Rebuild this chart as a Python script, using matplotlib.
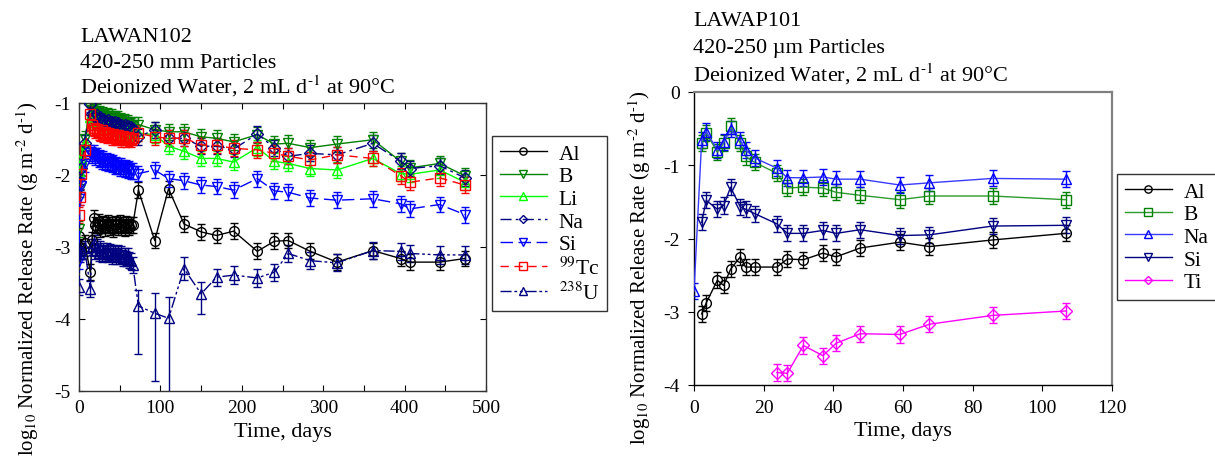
import matplotlib
matplotlib.use('Agg')
import matplotlib.pyplot as plt
import numpy as np

plt.rcParams['font.family'] = ['Liberation Serif', 'DejaVu Serif']
plt.rcParams['mathtext.fontset'] = 'stix'
plt.rcParams['axes.unicode_minus'] = False

# ---------------- Left panel data (LAWAN102) ----------------
t_early = [0, 1, 3, 7, 14, 16, 18, 20, 22, 24, 26, 28, 30, 32, 34, 36, 38, 40, 42, 44,
           46, 48, 50, 52, 54, 56, 58, 60, 62, 64, 66]
t_late = [73, 93, 110, 129, 150, 169, 190, 219, 240, 257, 284, 317, 361, 395, 407, 443, 474]

al_early = [-2.85, -3.0, -3.05, -2.95, -3.35, -2.9, -2.6, -2.7, -2.72, -2.65, -2.75, -2.7, -2.68, -2.74,
            -2.7, -2.66, -2.72, -2.7, -2.75, -2.68, -2.7, -2.73, -2.67, -2.72, -2.7, -2.74, -2.68, -2.7,
            -2.72, -2.69, -2.7]
al_late = [-2.21, -2.91, -2.19, -2.68, -2.79, -2.84, -2.78, -3.06, -2.92, -2.91, -3.06, -3.21, -3.05,
           -3.16, -3.21, -3.21, -3.16]

b_early = [-2.75, -2.2, -1.9, -1.5, -1.05, -1.1, -1.12, -1.15, -1.13, -1.18, -1.15, -1.2, -1.17, -1.2,
           -1.22, -1.18, -1.22, -1.2, -1.25, -1.22, -1.24, -1.22, -1.27, -1.25, -1.28, -1.26, -1.3,
           -1.28, -1.3, -1.32, -1.3]
b_late = [-1.30, -1.37, -1.40, -1.40, -1.47, -1.49, -1.54, -1.44, -1.57, -1.56, -1.62, -1.57, -1.51,
          -1.81, -1.90, -1.84, -2.01]

li_early = [-1.95, -1.85, -1.75, -1.55, -1.2, -1.2, -1.22, -1.25, -1.23, -1.27, -1.25, -1.28, -1.3,
            -1.27, -1.3, -1.32, -1.3, -1.33, -1.3, -1.35, -1.33, -1.35, -1.37, -1.34, -1.37, -1.38,
            -1.36, -1.4, -1.38, -1.4, -1.42]
li_late = [-1.42, -1.44, -1.60, -1.67, -1.77, -1.77, -1.82, -1.62, -1.81, -1.84, -1.91, -1.93, -1.77,
           -1.98, -1.99, -1.93, -2.10]

na_early = [-3.05, -2.1, -1.9, -1.55, -1.02, -1.15, -1.18, -1.2, -1.17, -1.22, -1.2, -1.24, -1.22,
            -1.25, -1.27, -1.24, -1.27, -1.26, -1.3, -1.27, -1.3, -1.28, -1.32, -1.3, -1.33, -1.31,
            -1.34, -1.32, -1.35, -1.34, -1.36]
na_late = [-1.47, -1.37, -1.49, -1.49, -1.60, -1.60, -1.64, -1.43, -1.62, -1.74, -1.70, -1.72, -1.56,
           -1.81, -1.91, -1.87, -2.04]

si_early = [-3.2, -2.3, -2.15, -1.85, -1.7, -1.72, -1.7, -1.75, -1.73, -1.78, -1.76, -1.8, -1.78,
            -1.82, -1.8, -1.84, -1.82, -1.85, -1.83, -1.87, -1.86, -1.88, -1.9, -1.87, -1.9, -1.92,
            -1.9, -1.93, -1.92, -1.95, -1.94]
si_late = [-1.98, -1.93, -2.05, -2.08, -2.14, -2.16, -2.21, -2.05, -2.22, -2.24, -2.32, -2.35, -2.33,
           -2.40, -2.47, -2.41, -2.55]

tc_early = [-2.56, -2.3, -1.98, -1.65, -1.15, -1.3, -1.35, -1.38, -1.36, -1.4, -1.42, -1.38, -1.43,
            -1.4, -1.45, -1.42, -1.44, -1.47, -1.43, -1.46, -1.48, -1.45, -1.47, -1.5, -1.46, -1.48,
            -1.5, -1.47, -1.49, -1.5, -1.48]
tc_late = [-1.42, -1.47, -1.49, -1.49, -1.58, -1.59, -1.63, -1.65, -1.70, -1.74, -1.79, -1.72, -1.77,
           -2.01, -2.10, -2.04, -2.14]

u_early = [-3.55, -3.1, -3.05, -3.02, -3.58, -3.0, -2.95, -3.05, -3.0, -3.08, -3.02, -3.1, -3.05,
           -3.08, -3.05, -3.1, -3.07, -3.12, -3.08, -3.1, -3.13, -3.08, -3.12, -3.1, -3.15, -3.12,
           -3.16, -3.13, -3.18, -3.2, -3.25]
u_late = [-3.82, -3.92, -3.99, -3.30, -3.65, -3.42, -3.39, -3.43, -3.35, -3.09, -3.19, -3.22, -3.05,
          -3.06, -3.09, -3.11, -3.11]
u_late_err_low = [0.67, 0.94, 1.5, 0.16, 0.28, 0.12, 0.12, 0.12, 0.12, 0.12, 0.12, 0.12, 0.12, 0.12,
                  0.12, 0.12, 0.12]
u_late_err_high = [0.22, 0.28, 0.29, 0.16, 0.16, 0.12, 0.12, 0.12, 0.12, 0.12, 0.12, 0.12, 0.12, 0.12,
                   0.12, 0.12, 0.12]

left_labels = ['Al', 'B', 'Li', 'Na', 'Si', r'$^{\text{99}}$Tc', r'$^{\text{238}}$U']

# ---------------- Right panel data (LAWAP101) ----------------
t_r = [2.2, 3.5, 6.7, 8.5, 10.5, 13.3, 14.8, 17.4, 23.8, 26.8, 31.4, 37.0, 40.8, 47.7, 59.1, 67.6,
       85.7, 106.7]
t_na_r = [0.0] + t_r
t_ti = [23.8, 26.8, 31.4, 37.0, 40.8, 47.7, 59.1, 67.6, 85.7, 106.7]

al_r = [-3.03, -2.88, -2.57, -2.64, -2.42, -2.25, -2.39, -2.39, -2.39, -2.28, -2.29, -2.20, -2.25,
        -2.13, -2.05, -2.11, -2.02, -1.93]
b_r = [-0.70, -0.56, -0.82, -0.70, -0.47, -0.70, -0.88, -0.96, -1.11, -1.31, -1.30, -1.31, -1.37,
       -1.41, -1.47, -1.42, -1.42, -1.47]
na_r = [-2.72, -0.66, -0.54, -0.79, -0.68, -0.51, -0.66, -0.79, -0.90, -1.04, -1.17, -1.17, -1.16,
        -1.19, -1.19, -1.27, -1.24, -1.18, -1.19]
si_r = [-1.78, -1.48, -1.60, -1.55, -1.30, -1.57, -1.60, -1.66, -1.80, -1.93, -1.93, -1.89, -1.93,
        -1.88, -1.96, -1.95, -1.83, -1.82]
ti_r = [-3.83, -3.84, -3.46, -3.60, -3.43, -3.30, -3.31, -3.17, -3.05, -2.99]

right_labels = ['Al', 'B', 'Na', 'Si', 'Ti']

ERR = 0.11
FS = 16

W, H = 1215, 460
fig = plt.figure(figsize=(W / 100, H / 100), dpi=100)
ax1 = fig.add_axes([79 / W, 1 - 392 / H, (486 - 79) / W, (392 - 104) / H])
ax2 = fig.add_axes([694 / W, 1 - 386 / H, (1112 - 694) / W, (386 - 93) / H])


def series(ax, t, y, color, marker, ls, label, ms=7, lw=1.0, yerr=None, lcolor=None):
    if yerr is None:
        yerr = ERR
    ax.errorbar(t, y, yerr=yerr, fmt='none', ecolor=color, elinewidth=1.0, capsize=3.2, capthick=1.0,
                zorder=2)
    h, = ax.plot(t, y, color=lcolor or color, ls=ls, lw=lw, marker=marker, ms=ms, mfc='none',
                 mec=color, mew=1.0, label=label, zorder=3)
    return h


t_all = t_early + t_late
u_err = [[ERR] * len(t_early) + u_late_err_low, [ERR] * len(t_early) + u_late_err_high]

h1 = []
h1.append(series(ax1, t_all, al_early + al_late, 'black', 'o', '-', left_labels[0]))
h1.append(series(ax1, t_all, b_early + b_late, '#008000', 'v', '-', left_labels[1]))
h1.append(series(ax1, t_all, li_early + li_late, '#00ff00', '^', '-', left_labels[2]))
h1.append(series(ax1, t_all, na_early + na_late, '#000080', 'D', (0, (8, 3, 2, 3)), left_labels[3], ms=6))
h1.append(series(ax1, t_all, si_early + si_late, '#0000ff', 'v', (0, (9, 4)), left_labels[4]))
h1.append(series(ax1, t_all, tc_early + tc_late, '#ff0000', 's', (0, (6, 4)), left_labels[5]))
h1.append(series(ax1, t_all, u_early + u_late, '#000080', '^', (0, (8, 2, 2, 2, 2, 2)), left_labels[6],
                 yerr=u_err))

ax1.set_xlim(0, 500)
ax1.set_ylim(-5, -1)
ax1.set_xticks([0, 100, 200, 300, 400, 500])
ax1.set_xticks([50, 150, 250, 350, 450], minor=True)
ax1.set_yticks([-1, -2, -3, -4, -5])
ax1.tick_params(which='both', direction='in', top=True, right=True, labelsize=14, length=4,
                width=0.8, pad=6)
for s in ax1.spines.values():
    s.set_color('#333333')
    s.set_linewidth(1.0)
ax1.set_xlabel('Time, days', fontsize=FS, labelpad=4)

h2 = []
h2.append(series(ax2, t_r, al_r, 'black', 'o', '-', right_labels[0]))
h2.append(series(ax2, t_r, b_r, '#008000', 's', '-', right_labels[1], lcolor='#2e9a2e'))
h2.append(series(ax2, t_na_r, na_r, '#0000ff', '^', '-', right_labels[2], lcolor='#3a3aff'))
h2.append(series(ax2, t_r, si_r, '#000080', 'v', '-', right_labels[3]))
h2.append(series(ax2, t_ti, ti_r, '#ff00ff', 'D', '-', right_labels[4], ms=6))

ax2.set_xlim(0, 120)
ax2.set_ylim(-4, 0)
ax2.set_xticks([0, 20, 40, 60, 80, 100, 120])
ax2.set_yticks([0, -1, -2, -3, -4])
ax2.tick_params(which='both', direction='out', labelsize=14, length=4, width=0.8, pad=6)
for side in ['left', 'bottom']:
    ax2.spines[side].set_color('black')
    ax2.spines[side].set_linewidth(1.0)
for side in ['top', 'right']:
    ax2.spines[side].set_color('#808080')
    ax2.spines[side].set_linewidth(1.6)
ax2.set_xlabel('Time, days', fontsize=FS, labelpad=4)

ylab = r'log$_{\text{10}}$ Normalized Release Rate (g m$^{\text{-2}}$ d$^{\text{-1}}$)'
fig.text(28 / W, 1 - 279 / H, ylab, rotation=90, ha='center', va='center', fontsize=15)
fig.text(640 / W, 1 - 268 / H, ylab, rotation=90, ha='center', va='center', fontsize=15)

# titles
sup = r'Deionized Water, 2 mL d$^{\text{-1}}$ at 90°C'
fig.text(80 / W, 1 - 42 / H, 'LAWAN102', fontsize=FS, va='baseline')
fig.text(80 / W, 1 - 68 / H, '420-250 mm Particles', fontsize=FS, va='baseline')
fig.text(80 / W, 1 - 93.5 / H, sup, fontsize=FS, va='baseline')
fig.text(693 / W, 1 - 26.5 / H, 'LAWAP101', fontsize=FS, va='baseline')
fig.text(693 / W, 1 - 53 / H, '420-250 µm Particles', fontsize=FS, va='baseline')
fig.text(693 / W, 1 - 81.5 / H, sup, fontsize=FS, va='baseline')

leg_kw = dict(fontsize=15.5, frameon=True, fancybox=False, handlelength=2.2, handletextpad=0.55,
              labelspacing=0.12, borderpad=0.35, borderaxespad=0.0, markerscale=0.75)
l1 = fig.legend(handles=h1, loc='upper left', bbox_to_anchor=(492 / W, 1 - 137 / H), **leg_kw)
l2 = fig.legend(handles=h2, loc='upper left', bbox_to_anchor=(1117 / W, 1 - 175 / H), **leg_kw)
for lg in (l1, l2):
    lg.get_frame().set_edgecolor('black')
    lg.get_frame().set_linewidth(1.0)

fig.savefig('out.png', dpi=100)
